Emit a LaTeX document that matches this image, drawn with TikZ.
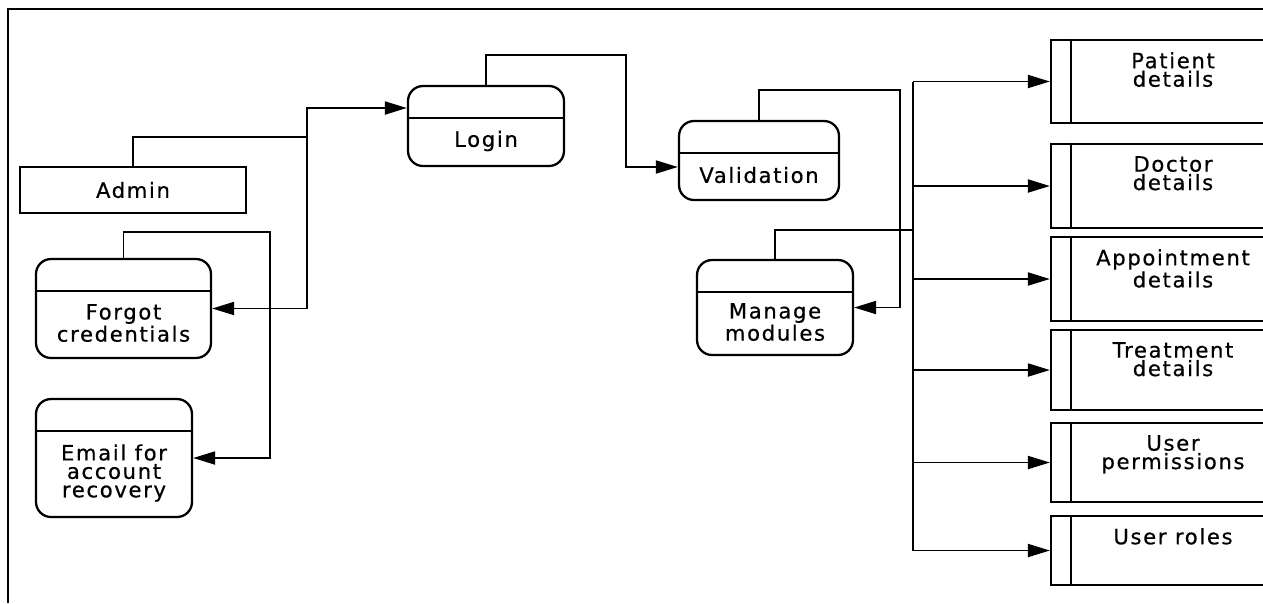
\documentclass[tikz,border=0pt]{standalone}
\usepackage{fontspec}
\setmainfont{DejaVu Sans}[LetterSpace=8, FakeBold=0.6]
\usetikzlibrary{arrows.meta}

\begin{document}
\begin{tikzpicture}[
  x=0.02cm, y=-0.02cm,
  every node/.style={font=\fontsize{12}{10.5}\selectfont, align=center, inner sep=0pt},
  proc/.style={draw, line width=1.3pt, rounded corners=0.3cm, minimum width=3.12cm},
  ent/.style={draw, line width=1.3pt, minimum width=4.52cm, minimum height=0.92cm},
  store/.style={draw, line width=1.3pt, minimum width=4.88cm},
  flow/.style={line width=1.1pt, -{Triangle[length=0.44cm,width=0.26cm]}},
  link/.style={line width=1.1pt}
]
\clip (0,0) rectangle (1263,603);
\draw[line width=1.6pt] (8,603) -- (8,9) -- (1263,9);
% Processes
\node[ent] (admin) at (133,190) {Admin};
\node[proc, minimum height=1.6cm] (login) at (486,126) {};
\node[proc, minimum width=3.2cm, minimum height=1.58cm] (validation) at (759,160.5) {};
\node[proc, minimum height=1.9cm] (manage) at (775,307.5) {};
\node[proc, minimum width=3.5cm, minimum height=1.98cm] (forgot) at (123.5,308.5) {};
\node[proc, minimum height=2.36cm] (email) at (114,458) {};
\foreach \p in {login,validation,manage,forgot,email}
  \draw[line width=1.1pt] ([yshift=-0.66cm]\p.north west) -- ([yshift=-0.66cm]\p.north east);
\node (loginT) at (486,141) {Login};
\node (validationT) at (759,175) {Validation};
\node (manageT) at (775,322) {Manage\\modules};
\node (forgotT) at (123.5,323) {Forgot\\credentials};
\node (emailT) at (114,473) {Email for\\account\\recovery};
% Data stores
\node[store, minimum height=1.66cm] (patient) at (1173,81.5) {};
\node[store, minimum height=1.68cm] (doctor) at (1173,186) {};
\node[store, minimum height=1.68cm] (appointment) at (1173,279) {};
\node[store, minimum height=1.6cm] (treatment) at (1173,370) {};
\node[store, minimum height=1.58cm] (permissions) at (1173,462.5) {};
\node[store, minimum height=1.38cm] (roles) at (1173,550.5) {};
\foreach \s in {patient,doctor,appointment,treatment,permissions,roles}
  \draw[line width=1.3pt] ([xshift=0.42cm]\s.north west) -- ([xshift=0.42cm]\s.south west);
\node[anchor=north] (patientT) at ([yshift=-0.26cm]patient.north) {Patient\\details};
\node[anchor=north] (doctorT) at ([yshift=-0.26cm]doctor.north) {Doctor\\details};
\node[anchor=north] (appointmentT) at ([yshift=-0.26cm]appointment.north) {Appointment\\details};
\node[anchor=north] (treatmentT) at ([yshift=-0.26cm]treatment.north) {Treatment\\details};
\node[anchor=north] (permissionsT) at ([yshift=-0.26cm]permissions.north) {User\\permissions};
\node[anchor=north] (rolesT) at ([yshift=-0.26cm]roles.north) {User roles};
% Flows
\coordinate (adminJ) at (307,137);
\coordinate (loginJ) at (626,55);
\coordinate (validJ) at (900,90);
\coordinate (manageJ) at (913,230);
\coordinate (forgotJ) at (270,232);
\draw[flow] (admin.north) |- (adminJ) |- ([yshift=0.36cm]login.west);
\draw[flow] (adminJ) |- (forgot.east);
\draw[flow] (login.north) |- (loginJ) |- ([yshift=-0.13cm]validation.west);
\draw[flow] (validation.north) |- (validJ) |- (manage.east);
\draw[flow] (forgot.north) |- (forgotJ) |- (email.east);
\draw[link] (manage.north) |- (manageJ);
\draw[link] (manageJ |- patient.west) -- (manageJ |- roles.west);
\foreach \s in {patient,doctor,appointment,treatment,permissions,roles}
  \draw[flow] (manageJ |- \s.west) -- (\s.west);
\end{tikzpicture}
\end{document}
